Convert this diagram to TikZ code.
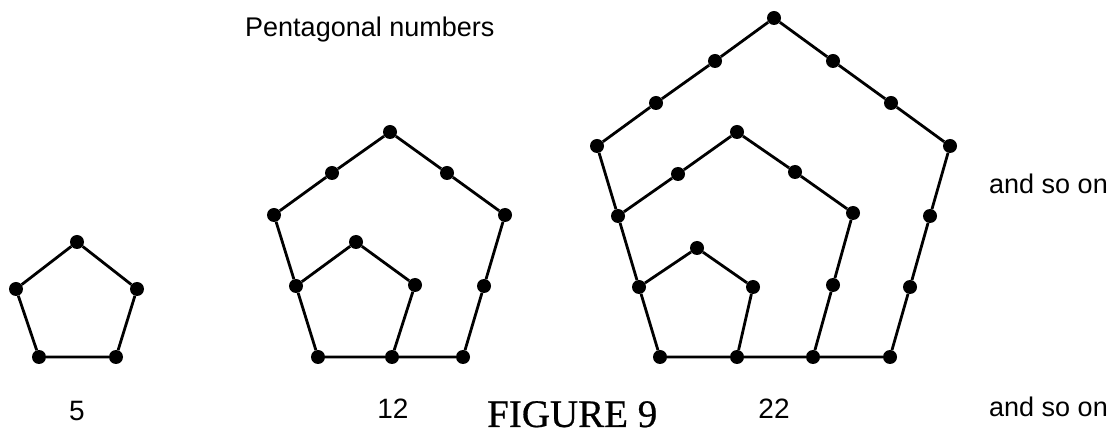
\documentclass[tikz,border=0pt]{standalone}
\usepackage{fontspec}
\setmainfont{Liberation Serif}
\newfontfamily\labelfont{Liberation Sans}
\newfontfamily\figfont[FakeBold=0.6]{Liberation Serif}
\begin{document}
\begin{tikzpicture}[x=1pt,y=-1pt,
  dot/.style={circle,fill=black,inner sep=0pt,minimum size=14pt},
  edge/.style={line width=2.8pt,line join=round},
  lbl/.style={font=\labelfont\fontsize{27}{31}\selectfont,inner sep=0pt},
  num/.style={font=\labelfont\fontsize{28}{32}\selectfont,inner sep=0pt,anchor=base}]
\useasboundingbox (0,0) rectangle (1120,435);
% ---- figure 5
\node[dot] (aBL) at (39,357) {};
\node[dot] (aBR) at (116,357) {};
\node[dot] (aR) at (137,289) {};
\node[dot] (aT) at (77,242) {};
\node[dot] (aL) at (16,289) {};
\draw[edge] (aBL) -- (aBR) -- (aR) -- (aT) -- (aL) -- (aBL);
% ---- figure 12
\node[dot] (bBL) at (318,357) {};
\node[dot] (bB2) at (392,357) {};
\node[dot] (bBR) at (463,357) {};
\node[dot] (bR2) at (484,286) {};
\node[dot] (bR) at (505,215) {};
\node[dot] (bTR) at (447,173) {};
\node[dot] (bT) at (390,132) {};
\node[dot] (bTL) at (332,173) {};
\node[dot] (bL) at (274,215) {};
\node[dot] (bL2) at (296,286) {};
\node[dot] (biT) at (356,242) {};
\node[dot] (biR) at (415,285) {};
\draw[edge] (bBL) -- (bB2) -- (bBR) -- (bR2) -- (bR) -- (bTR) -- (bT) -- (bTL) -- (bL) -- (bL2) -- (bBL);
\draw[edge] (bL2) -- (biT) -- (biR) -- (bB2);
% ---- figure 22
\node[dot] (cBL) at (660,357) {};
\node[dot] (cB2) at (737,357) {};
\node[dot] (cB3) at (813,357) {};
\node[dot] (cBR) at (890,357) {};
\node[dot] (cR3) at (910,287) {};
\node[dot] (cR2) at (930,216) {};
\node[dot] (cR) at (950,146) {};
\node[dot] (cTR2) at (891,103) {};
\node[dot] (cTR1) at (833,61) {};
\node[dot] (cT) at (774,18) {};
\node[dot] (cTL1) at (715,61) {};
\node[dot] (cTL2) at (656,103) {};
\node[dot] (cL) at (597,146) {};
\node[dot] (cL2) at (618,216) {};
\node[dot] (cL3) at (639,287) {};
\node[dot] (cmT) at (737,132) {};
\node[dot] (cmTL) at (678,174) {};
\node[dot] (cmTR) at (795,172) {};
\node[dot] (cmR) at (853,213) {};
\node[dot] (cmR2) at (833,285) {};
\node[dot] (ciT) at (697,248) {};
\node[dot] (ciR) at (753,287) {};
\draw[edge] (cBL) -- (cB2) -- (cB3) -- (cBR) -- (cR3) -- (cR2) -- (cR) -- (cTR2) -- (cTR1) -- (cT) -- (cTL1) -- (cTL2) -- (cL) -- (cL2) -- (cL3) -- (cBL);
\draw[edge] (cL2) -- (cmTL) -- (cmT) -- (cmTR) -- (cmR) -- (cmR2) -- (cB3);
\draw[edge] (cL3) -- (ciT) -- (ciR) -- (cB2);
% ---- texts
\node[lbl,anchor=base west] (title) at (245,37) {Pentagonal numbers};
\node[lbl,anchor=base west] (etc1) at (989,194) {and so on};
\node[lbl,anchor=base west] (etc2) at (989,417) {and so on};
\node[num] (n5) at (77,421) {5};
\node[num] (n12) at (393,419) {12};
\node[num] (n22) at (774,419) {22};
\node[inner sep=0pt,text depth=0pt,anchor=base west] (fig) at (487,427) {\figfont\fontsize{39}{43}\selectfont FIGURE 9};
\end{tikzpicture}
\end{document}
